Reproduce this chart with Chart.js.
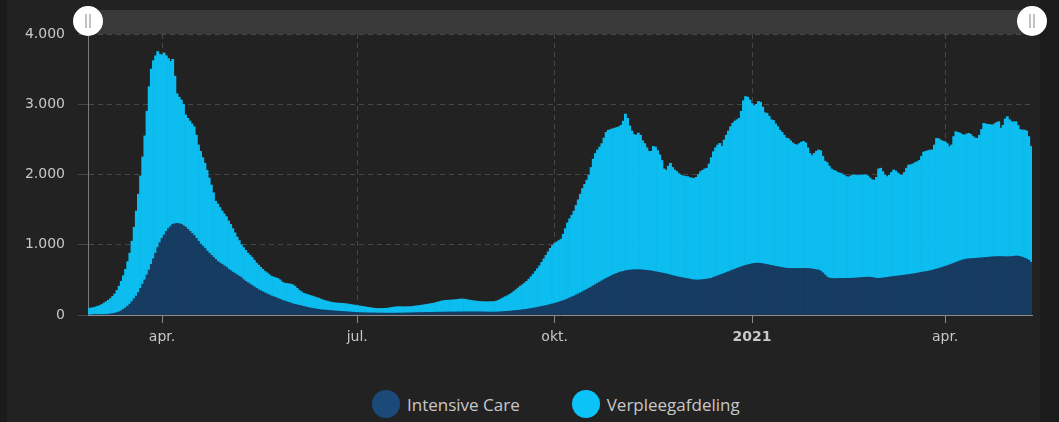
<!DOCTYPE html>
<html>
<head>
<meta charset="utf-8">
<script src="https://cdn.jsdelivr.net/npm/chart.js@4/dist/chart.umd.min.js"></script>
<style>
  html, body { margin: 0; padding: 0; background: #1b1b1b; width: 1059px; height: 422px; overflow: hidden; }
  #achter { position: absolute; left: 7px; top: 0; width: 1033px; height: 422px; background: #222222; }
  #grafiek { position: absolute; left: 0; top: 0; }
  #legenda { position: absolute; left: 372px; top: 390px; display: flex; align-items: center;
             font: 17px "Open Sans", sans-serif; color: #c8c8c8; }
  .item { display: flex; align-items: center; margin-right: 52px; }
  .dot { width: 28px; height: 28px; border-radius: 50%; margin-right: 7px; }
</style>
</head>
<body>
<div id="achter"></div>
<canvas id="grafiek" width="1059" height="360"></canvas>
<div id="legenda"></div>
<script>
// bezetting per dag, vanaf 27 februari 2020
const startDatum = Date.UTC(2020, 1, 27);

const intensiveCare = [
  0, 0, 1, 2, 3, 5, 6, 8, 10, 12,
  15, 20, 25, 35, 45, 60, 80, 100, 125, 155,
  190, 230, 270, 320, 380, 440, 500, 570, 640, 720,
  800, 880, 960, 1030, 1090, 1140, 1190, 1230, 1260, 1290,
  1300, 1305, 1300, 1290, 1270, 1250, 1220, 1190, 1160, 1130,
  1090, 1050, 1010, 980, 950, 910, 880, 850, 820, 790,
  760, 740, 720, 700, 680, 650, 630, 610, 590, 570,
  550, 530, 500, 480, 460, 440, 420, 400, 380, 360,
  345, 330, 315, 300, 285, 270, 260, 250, 235, 225,
  210, 200, 190, 180, 170, 160, 150, 145, 138, 130,
  122, 115, 108, 100, 95, 90, 85, 80, 76, 72,
  70, 68, 65, 62, 60, 57, 55, 52, 50, 48,
  46, 44, 42, 40, 38, 36, 34, 33, 32, 31,
  30, 30, 29, 29, 28, 28, 27, 27, 27, 26,
  26, 26, 26, 27, 27, 28, 28, 29, 29, 30,
  31, 32, 33, 34, 34, 35, 36, 36, 37, 38,
  38, 39, 40, 40, 41, 41, 42, 42, 42, 43,
  43, 43, 44, 44, 44, 44, 45, 45, 45, 45,
  45, 45, 44, 44, 43, 43, 42, 42, 41, 41,
  42, 44, 46, 48, 50, 52, 55, 58, 61, 64,
  67, 71, 75, 79, 83, 88, 93, 98, 104, 110,
  116, 122, 128, 135, 142, 150, 158, 166, 175, 185,
  195, 205, 215, 228, 242, 256, 270, 285, 300, 315,
  330, 347, 364, 381, 398, 415, 432, 450, 468, 486,
  504, 520, 536, 552, 566, 580, 592, 604, 614, 622,
  630, 636, 640, 642, 644, 645, 645, 644, 642, 640,
  636, 632, 628, 622, 616, 610, 604, 598, 592, 586,
  578, 570, 562, 554, 546, 540, 534, 528, 522, 518,
  510, 504, 500, 498, 498, 500, 504, 508, 512, 516,
  522, 534, 546, 558, 569, 580, 592, 604, 616, 628,
  640, 652, 664, 675, 686, 696, 705, 714, 722, 730,
  735, 738, 738, 735, 730, 724, 718, 712, 706, 700,
  694, 688, 682, 676, 670, 666, 664, 662, 662, 662,
  662, 662, 662, 664, 664, 662, 660, 656, 650, 644,
  640, 625, 600, 570, 540, 525, 520, 518, 518, 520,
  520, 520, 521, 522, 522, 523, 524, 526, 528, 530,
  532, 535, 538, 540, 538, 534, 528, 522, 522, 524,
  528, 532, 536, 540, 545, 548, 552, 556, 560, 564,
  568, 572, 576, 580, 585, 590, 596, 602, 608, 614,
  618, 624, 630, 638, 646, 654, 662, 672, 682, 692,
  702, 712, 724, 736, 748, 760, 772, 782, 790, 796,
  800, 803, 805, 807, 809, 811, 814, 817, 820, 822,
  825, 828, 830, 831, 832, 832, 831, 830, 830, 830,
  832, 836, 840, 838, 832, 822, 810, 798, 780, 750
];

const verpleegafdeling = [
  95, 100, 104, 113, 122, 130, 144, 162, 180, 198,
  220, 245, 275, 315, 365, 420, 480, 550, 635, 725,
  860, 1020, 1210, 1400, 1600, 1810, 2050, 2330, 2610, 2780,
  2820, 2810, 2790, 2680, 2610, 2590, 2500, 2420, 2350, 2350,
  2100, 1845, 1800, 1770, 1730, 1600, 1580, 1570, 1560, 1550,
  1470, 1370, 1320, 1260, 1210, 1150, 1070, 1000, 920, 830,
  820, 790, 760, 740, 720, 690, 660, 620, 580, 540,
  510, 470, 460, 440, 420, 410, 400, 380, 360, 350,
  335, 320, 305, 300, 290, 280, 280, 280, 285, 275,
  260, 255, 260, 265, 270, 270, 260, 235, 212, 200,
  188, 185, 182, 180, 175, 170, 165, 160, 152, 143,
  135, 130, 125, 120, 116, 115, 115, 116, 116, 116,
  114, 111, 108, 105, 102, 99, 96, 92, 88, 84,
  80, 75, 71, 67, 66, 64, 66, 67, 68, 71,
  76, 82, 86, 89, 91, 90, 89, 89, 89, 89,
  89, 92, 95, 98, 102, 105, 109, 114, 118, 122,
  128, 133, 140, 148, 155, 163, 166, 168, 170, 171,
  173, 177, 180, 184, 184, 182, 175, 169, 163, 159,
  155, 151, 148, 146, 147, 145, 146, 148, 149, 151,
  158, 168, 182, 197, 210, 223, 237, 254, 274, 296,
  318, 339, 355, 376, 397, 422, 452, 482, 516, 550,
  584, 628, 672, 715, 758, 800, 832, 854, 865, 875,
  885, 945, 1015, 1082, 1128, 1164, 1210, 1275, 1340, 1405,
  1470, 1513, 1556, 1609, 1702, 1805, 1868, 1900, 1922, 1954,
  2016, 2080, 2094, 2088, 2084, 2080, 2078, 2076, 2086, 2138,
  2230, 2164, 2050, 1978, 1926, 1915, 1945, 1916, 1838, 1800,
  1744, 1698, 1702, 1778, 1774, 1730, 1676, 1602, 1488, 1474,
  1542, 1590, 1538, 1510, 1494, 1470, 1456, 1452, 1453, 1452,
  1445, 1446, 1445, 1462, 1502, 1540, 1556, 1572, 1578, 1634,
  1718, 1791, 1834, 1862, 1875, 1820, 1898, 1956, 2004, 2052,
  2090, 2108, 2116, 2125, 2214, 2354, 2405, 2386, 2338, 2280,
  2245, 2262, 2302, 2295, 2230, 2156, 2152, 2118, 2074, 2070,
  2026, 1992, 1948, 1924, 1890, 1854, 1846, 1818, 1788, 1768,
  1758, 1778, 1798, 1806, 1786, 1718, 1640, 1614, 1650, 1686,
  1710, 1715, 1660, 1620, 1630, 1595, 1560, 1542, 1532, 1510,
  1500, 1490, 1469, 1448, 1443, 1457, 1471, 1464, 1457, 1460,
  1463, 1455, 1457, 1440, 1412, 1391, 1392, 1438, 1558, 1566,
  1512, 1458, 1434, 1450, 1485, 1516, 1498, 1464, 1435, 1426,
  1462, 1518, 1559, 1560, 1565, 1580, 1586, 1598, 1652, 1706,
  1712, 1716, 1719, 1712, 1774, 1861, 1848, 1818, 1793, 1775,
  1738, 1684, 1696, 1804, 1861, 1840, 1818, 1788, 1772, 1779,
  1786, 1767, 1735, 1713, 1706, 1749, 1826, 1911, 1900, 1893,
  1885, 1877, 1890, 1909, 1920, 1828, 1869, 1960, 1993, 1950,
  1920, 1914, 1912, 1862, 1808, 1811, 1823, 1822, 1760, 1650
];

const tickDatums = ['2020-04-01', '2020-07-01', '2020-10-01', '2021-01-01', '2021-04-01'];
const tickLabels = ['apr.', 'jul.', 'okt.', '2021', 'apr.'];
const yTicks = [0, 1000, 2000, 3000, 4000];

const reeksNamen = ['Intensive Care', 'Verpleegafdeling'];
const kleuren = ['#173c62', '#0dbdf0'];
const legendaKleuren = ['#1b4a78', '#0cc3f7'];

const dagen = [];
for (let i = 0; i < intensiveCare.length; i++) {
  dagen.push(new Date(startDatum + i * 864e5).toISOString().slice(0, 10));
}
const tickIndex = tickDatums.map(d => dagen.indexOf(d));

const fam = '"DejaVu Sans", sans-serif';
const gridKleur = '#474747';

// balk bovenin met de twee schuifknoppen
const navigator = {
  id: 'navigator',
  beforeDraw(chart) {
    const { ctx, chartArea } = chart;
    ctx.save();
    ctx.fillStyle = '#393939';
    ctx.fillRect(chartArea.left, 10, chartArea.right - chartArea.left, 24);
    ctx.restore();
  },
  afterDraw(chart) {
    const { ctx, chartArea } = chart;
    [chartArea.left, chartArea.right].forEach(x => {
      ctx.save();
      ctx.fillStyle = '#ffffff';
      ctx.beginPath();
      ctx.arc(x, 21, 15, 0, Math.PI * 2);
      ctx.fill();
      ctx.strokeStyle = '#999999';
      ctx.lineWidth = 1.2;
      ctx.beginPath();
      ctx.moveTo(x - 2, 14); ctx.lineTo(x - 2, 28);
      ctx.moveTo(x + 2, 14); ctx.lineTo(x + 2, 28);
      ctx.stroke();
      ctx.restore();
    });
  }
};

new Chart(document.getElementById('grafiek'), {
  type: 'bar',
  data: {
    labels: dagen,
    datasets: [
      { label: reeksNamen[0], data: intensiveCare, backgroundColor: kleuren[0] },
      { label: reeksNamen[1], data: verpleegafdeling, backgroundColor: kleuren[1] }
    ]
  },
  options: {
    responsive: false,
    animation: false,
    devicePixelRatio: 1,
    layout: { padding: { top: 34, right: 27, left: 0, bottom: 0 } },
    datasets: {
      bar: { barPercentage: 1, categoryPercentage: 1, borderWidth: 0 }
    },
    plugins: {
      legend: { display: false },
      tooltip: { enabled: false }
    },
    scales: {
      x: {
        stacked: true,
        afterFit: s => { s.height = 45; },
        afterBuildTicks: s => { s.ticks = tickIndex.map(i => ({ value: i })); },
        ticks: {
          autoSkip: false,
          maxRotation: 0,
          padding: 6,
          color: '#c8c8c8',
          font: c => ({ family: fam, size: 14, weight: c.tick && c.tick.label === '2021' ? 'bold' : 'normal' }),
          callback: v => tickLabels[tickIndex.indexOf(v)]
        },
        grid: {
          offset: false,
          color: gridKleur,
          tickLength: 8,
          tickColor: '#8c8c8c',
          tickBorderDash: []
        },
        border: { color: '#8c8c8c', dash: [5, 4], z: 1 }
      },
      y: {
        stacked: true,
        min: 0,
        max: 4000,
        afterFit: s => { s.width = 88; },
        afterBuildTicks: s => { s.ticks = yTicks.map(v => ({ value: v })); },
        ticks: {
          padding: 13,
          color: '#c8c8c8',
          font: { family: fam, size: 14 },
          callback: v => String(v).replace(/\B(?=(\d{3})+(?!\d))/g, '.')
        },
        grid: {
          color: c => c.tick && c.tick.value === 0 ? 'rgba(0,0,0,0)' : gridKleur,
          tickLength: 10,
          tickColor: gridKleur
        },
        border: { color: '#7a7a7a', dash: [5, 4] }
      }
    }
  },
  plugins: [navigator]
});

// legenda onder de grafiek
const legenda = document.getElementById('legenda');
reeksNamen.forEach((naam, i) => {
  const item = document.createElement('div');
  item.className = 'item';
  const dot = document.createElement('span');
  dot.className = 'dot';
  dot.style.background = legendaKleuren[i];
  const txt = document.createElement('span');
  txt.textContent = naam;
  item.appendChild(dot);
  item.appendChild(txt);
  legenda.appendChild(item);
});
</script>
</body>
</html>
